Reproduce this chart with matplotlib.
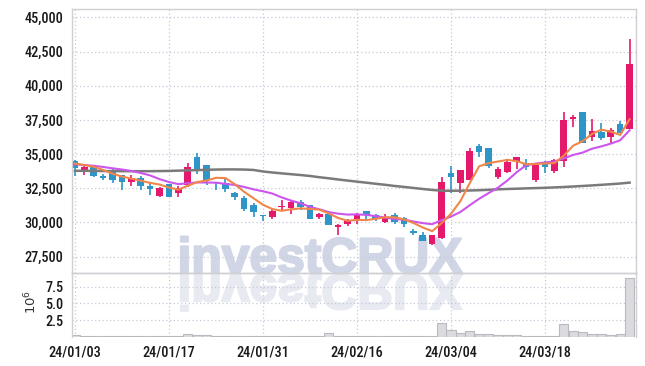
import os
import matplotlib
matplotlib.use("Agg")
import numpy as np
import matplotlib.pyplot as plt
import matplotlib.font_manager as fm
import matplotlib.patheffects as pe
from matplotlib.textpath import TextPath
from matplotlib.patches import PathPatch
from matplotlib.font_manager import FontProperties
from matplotlib.transforms import Affine2D
from matplotlib.ticker import FuncFormatter

# daily candles, one per trading day (24/01/03 .. 24/03/29)
opens = [34500, 33750, 34050, 33420, 33710, 33470, 32940, 33275, 32670, 31960,
         32815, 32180, 32740, 34765, 34200, 32910, 32865, 32135, 31770, 31280,
         30570, 30425, 31110, 31060, 31500, 31280, 30380, 30620, 29650, 29890,
         30235, 30820, 30525, 30035, 30525, 30330, 29400, 29110, 28430, 28845,
         33640, 32910, 33105, 35590, 35425, 33350, 33710, 34520, 34370, 33105,
         34370, 33785, 34520, 37590, 38080, 36230, 36615, 36270, 37200, 36810]
highs = [34550, 34200, 34150, 33570, 33985, 33470, 33470, 33400, 32890, 32595,
         32815, 32670, 34370, 35060, 34200, 32910, 33160, 32230, 31940, 31425,
         30570, 30965, 31645, 31645, 31645, 31280, 30720, 30620, 29890, 30255,
         30670, 30865, 30620, 30620, 30670, 30425, 29550, 29305, 29110, 33350,
         34130, 33840, 35445, 35740, 35425, 34035, 34620, 34810, 34620, 34325,
         34520, 34620, 38100, 37880, 38080, 37545, 37295, 36910, 37440, 43390]
lows = [33400, 33450, 33325, 33130, 32890, 32375, 32670, 32375, 32010, 31900,
        31865, 31840, 32575, 33545, 32740, 32375, 32250, 31645, 30840, 30425,
        30130, 30280, 30865, 30620, 30915, 30280, 30280, 29795, 29110, 29745,
        29890, 30185, 30090, 29940, 29890, 29695, 29110, 28625, 28380, 28770,
        32180, 32180, 33105, 34810, 33960, 33160, 33595, 33890, 33840, 32985,
        33640, 33640, 34035, 36960, 35835, 35980, 36030, 35790, 36520, 36810]
closes = [34000, 34050, 33420, 33230, 33130, 32980, 33275, 32650, 32450, 32520,
          31885, 32500, 34080, 33785, 33100, 32865, 32425, 31840, 30965, 30770,
          30475, 30865, 31205, 31500, 31110, 30280, 30620, 29795, 29840, 30090,
          30620, 30525, 30280, 30425, 30035, 29890, 29210, 28625, 29065, 32985,
          33305, 33840, 35250, 35175, 34130, 33890, 34445, 34765, 34080, 34200,
          34080, 34570, 37495, 37735, 35835, 36710, 36180, 36760, 36520, 41585]
volumes = [0.25, 0.15, 0.10, 0.12, 0.10, 0.12, 0.10, 0.10, 0.12, 0.10,
           0.10, 0.12, 0.45, 0.30, 0.25, 0.10, 0.12, 0.10, 0.12, 0.10,
           0.08, 0.08, 0.10, 0.10, 0.10, 0.12, 0.10, 0.60, 0.15, 0.10,
           0.10, 0.10, 0.10, 0.10, 0.10, 0.12, 0.10, 0.12, 0.15, 2.10,
           1.00, 0.50, 0.85, 0.45, 0.45, 0.30, 0.30, 0.30, 0.15, 0.10,
           0.10, 0.15, 1.85, 0.85, 0.70, 0.45, 0.45, 0.30, 0.45, 8.80]

# moving average lines
ma_short = [34310, 34200, 34070, 33840, 33566, 33362, 33207, 33053, 32897, 32775,
            32556, 32401, 32687, 32954, 33070, 33266, 33251, 32803, 32239, 31773,
            31295, 30983, 30856, 30963, 31031, 30992, 30943, 30661, 30329, 30125,
            30193, 30174, 30271, 30388, 30377, 30231, 29968, 29637, 29365, 29955,
            30638, 31564, 32889, 34111, 34340, 34457, 34578, 34481, 34262, 34276,
            34314, 34339, 34885, 35616, 35943, 36469, 36791, 36644, 36401, 37551]
ma_mid = [34255, 34200, 34145, 34060, 33960, 33875, 33765, 33620, 33440, 33170,
          32959, 32804, 32870, 32926, 32923, 32911, 32826, 32745, 32597, 32422,
          32281, 32117, 31830, 31601, 31402, 31144, 30963, 30759, 30646, 30578,
          30593, 30559, 30466, 30359, 30251, 30212, 30071, 29954, 29877, 30166,
          30435, 30766, 31263, 31738, 32148, 32548, 33071, 33685, 34187, 34308,
          34386, 34459, 34683, 34939, 35110, 35392, 35565, 35765, 36009, 36747]
ma_long = [33780, 33780, 33770, 33760, 33760, 33750, 33750, 33750, 33750, 33760,
           33770, 33790, 33810, 33830, 33850, 33870, 33880, 33880, 33870, 33840,
           33730, 33655, 33590, 33530, 33470, 33400, 33310, 33230, 33145, 33065,
           32985, 32910, 32830, 32755, 32670, 32600, 32525, 32450, 32380, 32325,
           32320, 32325, 32340, 32360, 32390, 32425, 32450, 32470, 32495, 32515,
           32535, 32565, 32595, 32630, 32670, 32710, 32755, 32800, 32850, 32915]

tick_pos = [0, 10, 20, 30, 40, 50]
tick_labels = ["24/01/03", "24/01/17", "24/01/31", "24/02/16", "24/03/04", "24/03/18"]
price_ticks = [27500, 30000, 32500, 35000, 37500, 40000, 42500, 45000]
vol_ticks = [2.5, 5.0, 7.5]

UP = "#E5196B"
DOWN = "#2E95C8"
GRID = "#C6CAD8"
SPINE = "#CFCFD4"
TXT = "#1A1A1A"


def pick_narrow_font():
    # the chart uses a heavy condensed face; take the closest one that is installed
    files = {os.path.basename(f.fname).lower(): f.fname for f in fm.fontManager.ttflist}
    wanted = [("robotocondensed-semibold.ttf", 10.3),
              ("robotocondensed-medium.ttf", 10.3),
              ("robotocondensed-bold.ttf", 10.0),
              ("liberationsansnarrow-bold.ttf", 10.0),
              ("robotocondensed-regular.ttf", 10.3),
              ("liberationsansnarrow-regular.ttf", 10.5),
              ("dejavusanscondensed-bold.ttf", 9.0),
              ("dejavusanscondensed.ttf", 9.5)]
    for name, size in wanted:
        if name in files:
            return FontProperties(fname=files[name], size=size)
    return FontProperties(family="DejaVu Sans", size=9)


tick_fp = pick_narrow_font()

fig = plt.figure(figsize=(6.45, 3.66), dpi=100)
W, H = 645, 366
ax = fig.add_axes([71.5 / W, 1 - 272.7 / H, (635.7 - 71.5) / W, (272.7 - 9) / H])
axv = fig.add_axes([71.5 / W, 1 - 336.7 / H, (635.7 - 71.5) / W, (336.7 - 272.7) / H], sharex=ax)
for a in (ax, axv):
    a.set_facecolor("none")
    for s in a.spines.values():
        s.set_color(SPINE)
        s.set_linewidth(1.0)
axv.spines["bottom"].set_visible(False)

idx = np.arange(len(closes))
o = np.array(opens)
c = np.array(closes)
up = c >= o
cols = np.where(up, UP, DOWN)
body_lo = np.minimum(o, c)
body_h = np.maximum(np.abs(c - o), 40)

ax.vlines(idx, lows, highs, colors=cols, linewidth=1.2, zorder=2)
ax.bar(idx, body_h, bottom=body_lo, width=0.7, color=cols, linewidth=0, zorder=2.5)

ax.plot(idx, ma_long, color="#7A7A7A", linewidth=1.8, zorder=3)
ax.plot(idx, ma_mid, color="#CC55EE", linewidth=1.5, zorder=3.2)
ax.plot(idx, ma_short, color="#F0864A", linewidth=1.5, zorder=3.4)

axv.bar(idx, volumes, width=0.98, color="#DADADF", edgecolor="#B9B9C0", linewidth=0.8, zorder=2)

ax.set_xlim(-0.37, 59.65)
ax.set_ylim(26330, 45607)
axv.set_ylim(0, 9.6)

ax.set_yticks(price_ticks)
ax.yaxis.set_major_formatter(FuncFormatter(lambda v, p: f"{v:,.0f}"))
axv.set_yticks(vol_ticks)
axv.yaxis.set_major_formatter(FuncFormatter(lambda v, p: f"{v:.1f}"))
axv.set_xticks(tick_pos)
axv.set_xticklabels(tick_labels)
ax.tick_params(axis="x", labelbottom=False, length=0)
ax.tick_params(axis="y", length=0, pad=6, labelcolor=TXT)
axv.tick_params(axis="both", length=0, labelcolor=TXT)
axv.tick_params(axis="x", pad=6.5)
axv.tick_params(axis="y", pad=6)
for lab in ax.get_yticklabels() + axv.get_yticklabels() + axv.get_xticklabels():
    lab.set_fontproperties(tick_fp)

for a in (ax, axv):
    a.grid(True, color=GRID, linestyle=(0, (1, 2)), linewidth=0.9, zorder=0)
    a.set_axisbelow(True)

fig.text(31 / W, 1 - 302 / H, r"$10^{6}$", rotation=90, ha="center", va="center",
         fontsize=9.5, color="#333333")

# watermark and its reflection
fp = FontProperties(family="Liberation Sans", weight="bold")
tp = TextPath((0, 0), "investCRUX", size=50, prop=fp)
bb = tp.get_extents()
sc = 281 / bb.width
base_y = H - 272.7
wm = fig.text((181 - bb.x0 * sc) / W, base_y / H, "investCRUX", ha="left", va="baseline",
              fontsize=50 * sc * 72 / 100, fontfamily="Liberation Sans", fontweight="bold",
              color="#D1D6E6", zorder=-1)
wm.set_path_effects([pe.withStroke(linewidth=1.6, foreground="#D1D6E6")])
flip_tr = Affine2D().translate(-bb.x0, 0).scale(sc, -sc).translate(181, base_y - 2)
fig.add_artist(PathPatch(tp, transform=flip_tr, facecolor="#E8EAF1", edgecolor="#E8EAF1",
                         linewidth=1.6, zorder=-1))

fig.savefig("out.png", dpi=100, facecolor="white")
